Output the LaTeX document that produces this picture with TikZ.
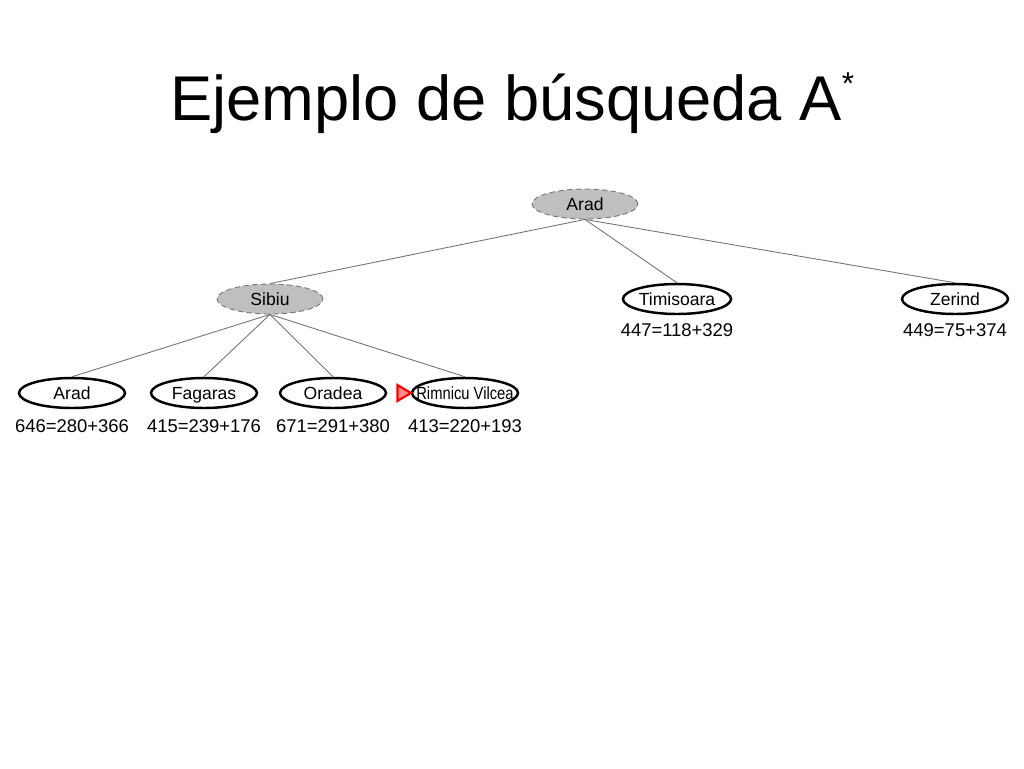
\documentclass[tikz,border=0pt]{standalone}
\usepackage{fontspec}
\setmainfont{Liberation Sans}
\usetikzlibrary{positioning,shapes.geometric}

\begin{document}
\begin{tikzpicture}[x=0.02cm, y=-0.02cm,
		city/.style={ellipse, draw=black, line width=1.4pt, fill=white, minimum width=2.12cm, minimum height=0.6cm, inner sep=0pt, text height=7pt, text depth=0pt, font=\fontsize{10}{12}\selectfont},
		expanded/.style={city, fill=black!25, draw=black!55, line width=0.5pt, densely dashed},
		cost/.style={inner sep=0pt, font=\fontsize{10.5}{12}\selectfont},
		edge/.style={draw=black!55, line width=0.5pt}]
				\useasboundingbox (0, 0) rectangle (1024, 768);
				
				\node[anchor=base west, inner sep=0pt, font=\fontsize{36}{40}\selectfont] (title) at (170, 120) {Ejemplo de búsqueda A\raisebox{0.75ex}{\fontsize{18}{18}\selectfont *}};
				
				\node[expanded] (arad) at (585, 204) {Arad};
				
				\node[expanded] (sibiu) at (270, 299) {Sibiu};
				\node[city] (timisoara) at (677, 299) {Timisoara};
				\node[city] (zerind) at (955, 299) {Zerind};
				
				\node[city] (arad2) at (72, 393) {Arad};
				\node[city] (fagaras) at (204, 393) {Fagaras};
				\node[city] (oradea) at (333, 393) {Oradea};
				\node[city] (rimnicu) at (465, 393) {\makebox[0pt]{\scalebox{0.84}[1]{Rimnicu Vilcea}}};
				
				\node[cost, below=0.16cm of timisoara] (ctimisoara) {447=118+329};
				\node[cost, below=0.16cm of zerind] (czerind) {449=75+374};
				\node[cost, below=0.2cm of arad2] (carad2) {646=280+366};
				\node[cost, below=0.2cm of fagaras] (cfagaras) {415=239+176};
				\node[cost, below=0.2cm of oradea] (coradea) {671=291+380};
				\node[cost, below=0.2cm of rimnicu] (crimnicu) {413=220+193};
				
				\node[isosceles triangle, isosceles triangle apex angle=62, isosceles triangle stretches, draw=red, fill=red!45, line width=1.2pt, minimum height=0.27cm, minimum width=0.32cm, inner sep=0pt] (pointer) at (402, 393) {};
				
				\draw[edge] (arad.south) -- (sibiu.north);
				\draw[edge] (arad.south) -- (timisoara.north);
				\draw[edge] (arad.south) -- (zerind.north);
				\draw[edge] (sibiu.south) -- (arad2.north);
				\draw[edge] (sibiu.south) -- (fagaras.north);
				\draw[edge] (sibiu.south) -- (oradea.north);
				\draw[edge] (sibiu.south) -- (rimnicu.north);
\end{tikzpicture}
\end{document}
